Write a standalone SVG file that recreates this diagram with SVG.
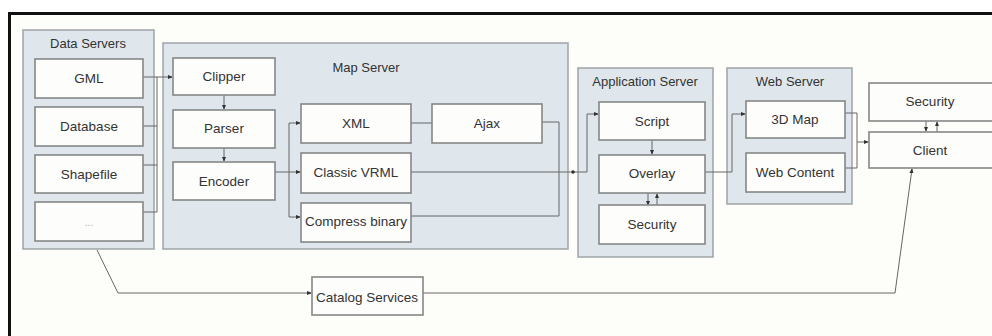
<svg xmlns="http://www.w3.org/2000/svg" width="992" height="336" viewBox="0 0 992 336">
<defs>
<style>
.frame{fill:#fdfdfa;stroke:#111;stroke-width:3}
.grp{fill:#dfe7ec;stroke:#9ea4a8;stroke-width:1.5}
.box{fill:#fdfdfc;stroke:#858788;stroke-width:1.6}
.t{font-family:"Liberation Sans",Arial,sans-serif;font-size:13.5px;fill:#333;text-anchor:middle}
.lbl{font-family:"Liberation Sans",Arial,sans-serif;font-size:13px;fill:#333;text-anchor:middle}
.c{fill:none;stroke:#666;stroke-width:1}
.ca{fill:none;stroke:#666;stroke-width:1;marker-end:url(#ah)}
</style>
<marker id="ah" viewBox="0 0 6 6" refX="5" refY="3" markerWidth="5" markerHeight="5" orient="auto" markerUnits="userSpaceOnUse">
<path d="M0,0.5 L6,3 L0,5.5 Z" fill="#333"/>
</marker>
</defs>
<rect width="992" height="336" fill="#ffffff"/>
<rect class="frame" x="9.5" y="13.5" width="1000" height="400"/>

<g id="data-servers">
<rect class="grp" x="23" y="30" width="131" height="219"/>
<text class="lbl" x="88" y="48">Data Servers</text>
</g>
<g id="map-server">
<rect class="grp" x="163" y="43" width="405" height="206"/>
<text class="lbl" x="366" y="72">Map Server</text>
</g>
<g id="app-server">
<rect class="grp" x="578" y="68" width="135" height="189"/>
<text class="lbl" x="645" y="86">Application Server</text>
</g>
<g id="web-server">
<rect class="grp" x="727" y="68" width="125" height="136"/>
<text class="lbl" x="790" y="86">Web Server</text>
</g>

<g id="connectors">
<path class="ca" d="M143,77 H172"/>
<path class="c" d="M143,126 H157 M143,165 H157 M143,212 H157 M157,77 V212"/>
<path class="ca" d="M224,95 V109"/>
<path class="ca" d="M224,148 V161"/>
<path class="ca" d="M275,172 H300"/>
<path class="ca" d="M289,172 V123 H300"/>
<path class="ca" d="M289,172 V217 H300"/>
<path class="c" d="M411,123 H432"/>
<path class="c" d="M542,122 H559 V216 H411"/>
<path class="ca" d="M411,172 H587 V114 H598"/>
<circle cx="573" cy="172" r="1.8" fill="#333"/>
<path class="ca" d="M652,140 V154"/>
<path class="ca" d="M648,193 V205"/>
<path class="ca" d="M657,205 V194"/>
<path class="ca" d="M705,172 H732 V114 H745"/>
<path class="c" d="M845,113 H857 V168 H845"/>
<path class="ca" d="M857,142 H868"/>
<path class="ca" d="M926,121 V131"/>
<path class="ca" d="M937,132 V122"/>
<path class="ca" d="M97,250 L118,293 H311"/>
<path class="ca" d="M423,293 H895 L912,169"/>
</g>

<g id="gml"><rect class="box" x="35" y="59" width="108" height="39"/><text class="t" x="89" y="83">GML</text></g>
<g id="database"><rect class="box" x="35" y="107" width="108" height="39"/><text class="t" x="89" y="131">Database</text></g>
<g id="shapefile"><rect class="box" x="35" y="155" width="108" height="38"/><text class="t" x="89" y="179">Shapefile</text></g>
<g id="more"><rect class="box" x="35" y="202" width="108" height="39"/><text class="t" x="89" y="226" style="fill:#aaa;font-size:10px">...</text></g>

<g id="clipper"><rect class="box" x="173" y="58" width="102" height="37"/><text class="t" x="224" y="81">Clipper</text></g>
<g id="parser"><rect class="box" x="173" y="110" width="102" height="38"/><text class="t" x="224" y="133">Parser</text></g>
<g id="encoder"><rect class="box" x="173" y="162" width="102" height="38"/><text class="t" x="224" y="186">Encoder</text></g>
<g id="xml"><rect class="box" x="301" y="104" width="110" height="39"/><text class="t" x="356" y="128">XML</text></g>
<g id="classic-vrml"><rect class="box" x="301" y="153" width="110" height="40"/><text class="t" x="356" y="177">Classic VRML</text></g>
<g id="compress-binary"><rect class="box" x="301" y="203" width="110" height="39"/><text class="t" x="356" y="226">Compress binary</text></g>
<g id="ajax"><rect class="box" x="432" y="104" width="110" height="39"/><text class="t" x="487" y="128">Ajax</text></g>

<g id="script"><rect class="box" x="599" y="102" width="106" height="38"/><text class="t" x="652" y="126">Script</text></g>
<g id="overlay"><rect class="box" x="599" y="155" width="106" height="38"/><text class="t" x="652" y="178">Overlay</text></g>
<g id="security-app"><rect class="box" x="599" y="205" width="106" height="39"/><text class="t" x="652" y="229">Security</text></g>

<g id="map3d"><rect class="box" x="746" y="101" width="99" height="37"/><text class="t" x="795" y="124">3D Map</text></g>
<g id="web-content"><rect class="box" x="746" y="153" width="99" height="39"/><text class="t" x="795" y="177">Web Content</text></g>

<g id="security-client"><rect class="box" x="869" y="83" width="125" height="38"/><text class="t" x="930" y="106">Security</text></g>
<g id="client"><rect class="box" x="869" y="132" width="125" height="36"/><text class="t" x="930" y="155">Client</text></g>

<g id="catalog"><rect class="box" x="312" y="277" width="111" height="38"/><text class="t" x="367" y="302">Catalog Services</text></g>
</svg>
